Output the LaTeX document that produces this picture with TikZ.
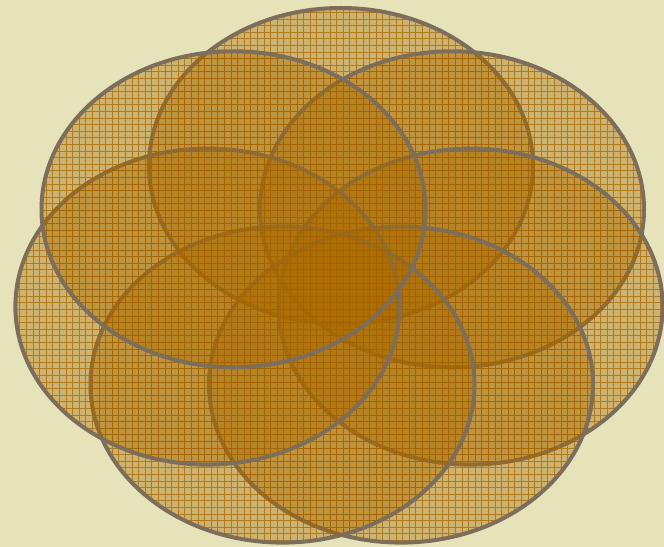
\documentclass[tikz,border=0pt]{standalone}
\definecolor{fundo}{RGB}{230,226,185}
\definecolor{petalbrown}{RGB}{170,106,0}
\definecolor{gridbrown}{RGB}{163,100,0}
\definecolor{edgegray}{RGB}{124,110,90}
\begin{document}
\begin{tikzpicture}[x=0.3mm, y=0.3mm,
  petalfill/.style={fill=petalbrown, fill opacity=0.4},
  petalgrid/.style={draw=gridbrown, draw opacity=0.7, line width=0.27mm},
  petaledge/.style={draw=edgegray, line width=1.2mm},
  petalsize/.style={x radius=192, y radius=158}
]
\fill[fundo] (0,0) rectangle (664,547);
\useasboundingbox (0,0) rectangle (664,547);
\coordinate (p1) at (341,381);
\coordinate (p2) at (452,337.7);
\coordinate (p3) at (470.6,240.4);
\coordinate (p4) at (401,162.4);
\coordinate (p5) at (282.5,162.4);
\coordinate (p6) at (207.4,240.4);
\coordinate (p7) at (233.5,337.7);
% top petal
\begin{scope}
  \clip (p1) ellipse [petalsize];
  \fill[petalfill] (0,0) rectangle (664,547);
  \draw[petalgrid, step=6.6] (0,0) grid (664,547);
\end{scope}
\draw[petaledge] (p1) ellipse [petalsize];
% upper right
\begin{scope}
  \clip (p2) ellipse [petalsize];
  \fill[petalfill] (0,0) rectangle (664,547);
  \draw[petalgrid, step=6.6] (0,0) grid (664,547);
\end{scope}
\draw[petaledge] (p2) ellipse [petalsize];
% right
\begin{scope}
  \clip (p3) ellipse [petalsize];
  \fill[petalfill] (0,0) rectangle (664,547);
  \draw[petalgrid, step=6.6] (0,0) grid (664,547);
\end{scope}
\draw[petaledge] (p3) ellipse [petalsize];
% lower right
\begin{scope}
  \clip (p4) ellipse [petalsize];
  \fill[petalfill] (0,0) rectangle (664,547);
  \draw[petalgrid, step=6.6] (0,0) grid (664,547);
\end{scope}
\draw[petaledge] (p4) ellipse [petalsize];
% lower left
\begin{scope}
  \clip (p5) ellipse [petalsize];
  \fill[petalfill] (0,0) rectangle (664,547);
  \draw[petalgrid, step=6.6] (0,0) grid (664,547);
\end{scope}
\draw[petaledge] (p5) ellipse [petalsize];
% left
\begin{scope}
  \clip (p6) ellipse [petalsize];
  \fill[petalfill] (0,0) rectangle (664,547);
  \draw[petalgrid, step=6.6] (0,0) grid (664,547);
\end{scope}
\draw[petaledge] (p6) ellipse [petalsize];
% upper left
\begin{scope}
  \clip (p7) ellipse [petalsize];
  \fill[petalfill] (0,0) rectangle (664,547);
  \draw[petalgrid, step=6.6] (0,0) grid (664,547);
\end{scope}
\draw[petaledge] (p7) ellipse [petalsize];
\end{tikzpicture}
\end{document}
